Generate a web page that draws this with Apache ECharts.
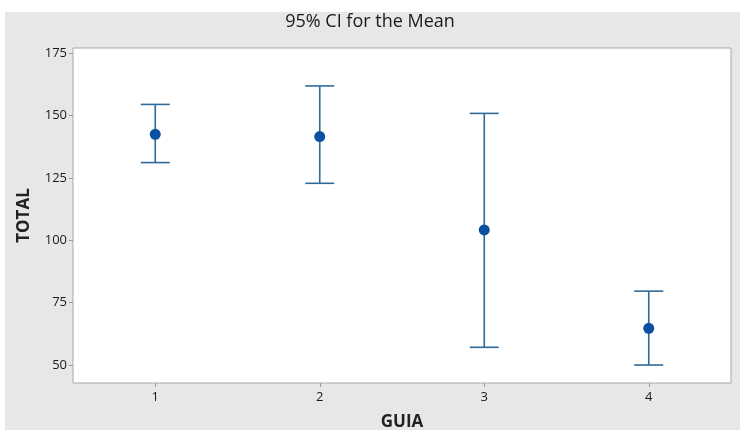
<!DOCTYPE html>
<html>
<head>
<meta charset="utf-8">
<script src="https://cdn.jsdelivr.net/npm/echarts@6/dist/echarts.min.js"></script>
<style>
html,body{margin:0;padding:0;background:#fff;}
#chart{width:740px;height:430px;}
</style>
</head>
<body>
<div id="chart"></div>
<script>
const guia = ['1', '2', '3', '4'];
const means = [142.4, 141.5, 104.1, 64.7];
const lowers = [131.1, 122.8, 57.1, 50.0];
const uppers = [154.4, 161.8, 150.8, 79.6];
const yTicks = [50, 75, 100, 125, 150, 175];

const chart = echarts.init(document.getElementById('chart'), null, {renderer: 'canvas'});
const lineColor = '#2f6a9b';
const dotColor = '#0a52a0';
const font = '"Open Sans", "Noto Sans", sans-serif';

const option = {
  backgroundColor: '#ffffff',
  animation: false,
  graphic: [{
    type: 'rect', z: -100, silent: true,
    shape: {x: 5, y: 12, width: 735, height: 418},
    style: {fill: '#e7e7e7'}
  }],
  title: {
    text: '95% CI for the Mean',
    left: 'center', top: 8,
    textStyle: {fontFamily: font, fontSize: 18, fontWeight: 'normal', color: '#1a1a1a'}
  },
  grid: {
    left: 73, right: 9, top: 48, bottom: 47,
    outerBoundsMode: 'none',
    containLabel: false,
    show: true, backgroundColor: '#ffffff', borderColor: '#a8a8a8', borderWidth: 1
  },
  xAxis: {
    type: 'category',
    data: guia,
    boundaryGap: true,
    name: 'GUIA',
    nameLocation: 'middle',
    nameGap: 31,
    nameTextStyle: {fontFamily: font, fontSize: 17, fontWeight: 'bold', color: '#222'},
    axisLine: {show: false},
    axisTick: {show: true, alignWithLabel: true, length: 4, lineStyle: {color: '#999'}},
    axisLabel: {fontFamily: font, fontSize: 13, color: '#1a1a1a', margin: 8},
    splitLine: {show: false}
  },
  yAxis: {
    type: 'value',
    min: 42.8, max: 177,
    name: 'TOTAL',
    nameLocation: 'middle',
    nameGap: 40,
    nameTextStyle: {fontFamily: font, fontSize: 17, fontWeight: 'bold', color: '#222'},
    axisLine: {show: false},
    axisTick: {show: true, length: 4, lineStyle: {color: '#999'}, customValues: yTicks},
    axisLabel: {fontFamily: font, fontSize: 13, color: '#1a1a1a', margin: 6, customValues: yTicks},
    splitLine: {show: false}
  },
  series: [
    {
      type: 'custom',
      data: guia.map((g, i) => [i, lowers[i], uppers[i]]),
      renderItem: function (params, api) {
        const i = api.value(0);
        const lo = api.coord([i, api.value(1)]);
        const hi = api.coord([i, api.value(2)]);
        const hw = 14.5;
        const st = {stroke: lineColor, lineWidth: 1.6};
        return {
          type: 'group',
          children: [
            {type: 'line', shape: {x1: hi[0], y1: hi[1], x2: lo[0], y2: lo[1]}, style: st},
            {type: 'line', shape: {x1: hi[0] - hw, y1: hi[1], x2: hi[0] + hw, y2: hi[1]}, style: st},
            {type: 'line', shape: {x1: lo[0] - hw, y1: lo[1], x2: lo[0] + hw, y2: lo[1]}, style: st}
          ]
        };
      },
      z: 2
    },
    {
      type: 'scatter',
      data: means,
      symbol: 'circle',
      symbolSize: 11,
      itemStyle: {color: dotColor, opacity: 1},
      z: 3
    }
  ]
};
chart.setOption(option);
</script>
</body>
</html>
